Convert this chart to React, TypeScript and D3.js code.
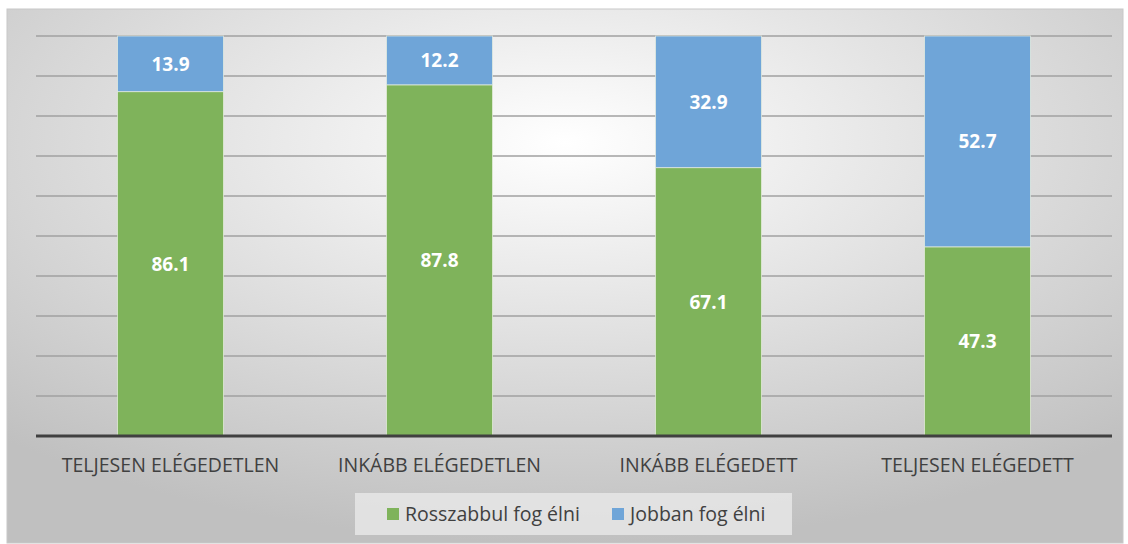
import * as d3 from "d3";

const categories = [
  "TELJESEN ELÉGEDETLEN",
  "INKÁBB ELÉGEDETLEN",
  "INKÁBB ELÉGEDETT",
  "TELJESEN ELÉGEDETT",
];
const worse = [86.1, 87.8, 67.1, 47.3];
const better = [13.9, 12.2, 32.9, 52.7];
const seriesNames = ["Rosszabbul fog élni", "Jobban fog élni"];
const seriesColors = ["#7fb35b", "#6fa5d8"];
const gridTicks = d3.range(0, 101, 10);

const W = 1128;
const H = 544;
const plot = { left: 36, right: 1112, top: 36, bottom: 436 };
const font = "'Open Sans', 'DejaVu Sans', sans-serif";

const App = () => {
  const x = d3
    .scaleBand<string>()
    .domain(categories)
    .range([plot.left, plot.right])
    .paddingInner(0.606)
    .paddingOuter(0.303);
  const y = d3.scaleLinear().domain([0, 100]).range([plot.bottom, plot.top]);

  const rows = categories.map((c, i) => ({ cat: c, worse: worse[i], better: better[i] }));
  const stacked = d3.stack<any>().keys(["worse", "better"])(rows);

  return (
    <svg
      width={W}
      height={H}
      style={{ position: "absolute", left: 0, top: 0, display: "block" }}
    >
      <defs>
        <radialGradient id="bg" cx="50%" cy="25%" r="75%" gradientUnits="objectBoundingBox">
          <stop offset="0%" stopColor="#ffffff" />
          <stop offset="100%" stopColor="#c0c0c0" />
        </radialGradient>
      </defs>
      <rect x={0} y={0} width={W} height={H} fill="#ffffff" />
      <rect x={7} y={9} width={1116} height={534} fill="url(#bg)" stroke="#c8c8c8" strokeWidth={1} />

      {gridTicks.slice(1).map((t) => (
        <line
          key={t}
          x1={plot.left}
          x2={plot.right}
          y1={y(t)}
          y2={y(t)}
          stroke="#a0a0a0"
          strokeWidth={1.5}
        />
      ))}

      {stacked.map((s, si) =>
        s.map((d, i) => (
          <g key={`${si}-${i}`}>
            <rect
              x={x(categories[i])}
              y={y(d[1])}
              width={x.bandwidth()}
              height={y(d[0]) - y(d[1])}
              fill={seriesColors[si]}
              stroke="#e8f0e0"
              strokeOpacity={0.7}
              strokeWidth={1}
            />
            <text
              x={(x(categories[i]) || 0) + x.bandwidth() / 2}
              y={(y(d[0]) + y(d[1])) / 2}
              dy="0.36em"
              textAnchor="middle"
              fill="#ffffff"
              fontFamily={font}
              fontWeight="bold"
              fontSize={19}
            >
              {(d[1] - d[0]).toFixed(1)}
            </text>
          </g>
        ))
      )}

      <line
        x1={plot.left}
        x2={plot.right}
        y1={y(0)}
        y2={y(0)}
        stroke="#404040"
        strokeWidth={3}
      />

      {categories.map((c) => (
        <text
          key={c}
          x={(x(c) || 0) + x.bandwidth() / 2}
          y={472}
          textAnchor="middle"
          fill="#404040"
          fontFamily={font}
          fontSize={19.5}
        >
          {c}
        </text>
      ))}

      <rect x={355} y={493} width={437} height={42} fill="#e8e8e8" opacity={0.8} />
      {seriesNames.map((n, i) => {
        const lx = i === 0 ? 387 : 612;
        return (
          <g key={n}>
            <rect x={lx} y={508} width={12} height={12} fill={seriesColors[i]} />
            <text
              x={lx + 18}
              y={521}
              fill="#404040"
              fontFamily={font}
              fontSize={19.5}
            >
              {n}
            </text>
          </g>
        );
      })}
    </svg>
  );
};

export default App;
